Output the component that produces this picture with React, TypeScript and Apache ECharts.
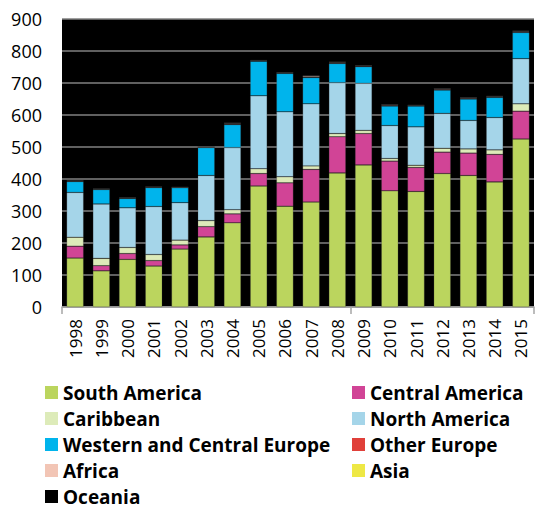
import React, { useEffect, useRef } from "react";
import * as echarts from "echarts";

const years = ["1998","1999","2000","2001","2002","2003","2004","2005","2006","2007","2008","2009","2010","2011","2012","2013","2014","2015"];
const southAmerica = [153,113,149,128,181,219,263,378,315,328,419,444,363,361,417,411,391,525];
const centralAmerica = [37,16,18,17,13,32,28,39,73,102,113,98,93,75,67,70,86,87];
const caribbean = [28,23,19,19,15,19,13,15,19,11,10,10,8,7,12,13,14,23];
const northAmerica = [140,170,124,150,117,141,194,228,203,194,159,147,103,120,109,89,101,141];
const westernCentralEurope = [34,45,29,59,47,87,72,108,120,82,60,52,61,65,73,67,63,82];
const otherEurope = [1,1,1,1,0.5,1,2,1,1,1,2,2,2,1,2,2,1,2];
const africa = [1,0.5,1,1,0.5,0.5,2,1,1,4,2,1,2,1,2,2,2,2];
const asia = [0.5,0.5,0.5,0.5,0.3,0.5,1,0.5,0.5,0.5,0.5,0.5,0.5,0.5,0.5,0.5,0.5,0.5];
const oceania = [0.5,0.5,0.5,0.5,0.3,0.5,0.5,0.5,0.5,0.5,0.5,0.5,0.5,0.5,0.5,0.5,0.5,0.5];
const yTicks = [0,100,200,300,400,500,600,700,800,900];

const seriesDefs = [
  { name: "South America", data: southAmerica, color: "#BBD55E" },
  { name: "Central America", data: centralAmerica, color: "#D14496" },
  { name: "Caribbean", data: caribbean, color: "#DDEBB9" },
  { name: "North America", data: northAmerica, color: "#A5D5E9" },
  { name: "Western and Central Europe", data: westernCentralEurope, color: "#00B4EC" },
  { name: "Other Europe", data: otherEurope, color: "#E0403A" },
  { name: "Africa", data: africa, color: "#F2C5B5" },
  { name: "Asia", data: asia, color: "#EEE845" },
  { name: "Oceania", data: oceania, color: "#000000" },
];

const FONT = "'Open Sans', 'Liberation Sans', sans-serif";

export default function App() {
  const ref = useRef<HTMLDivElement>(null);
  useEffect(() => {
    if (!ref.current) return;
    const chart = echarts.init(ref.current, undefined, { renderer: "svg" });
    const legendText = { fontSize: 19, fontWeight: "bold", color: "#000", fontFamily: FONT, lineHeight: 19 };
    const legendBase = {
      orient: "vertical", top: 383, height: 130, itemWidth: 13, itemHeight: 13, itemGap: 7,
      icon: "rect", textStyle: legendText, padding: 0,
      itemStyle: { borderWidth: 0 },
    };
    chart.setOption({
      animation: false,
      grid: { left: 62, right: 18, top: 19, bottom: 202, show: true, backgroundColor: "#000", borderWidth: 0 },
      legend: [
        { ...legendBase, left: 45, data: ["South America", "Caribbean", "Western and Central Europe", "Africa", "Oceania"] },
        { ...legendBase, left: 352, data: ["Central America", "North America", "Other Europe", "Asia"] },
      ],
      xAxis: {
        type: "category",
        data: years,
        axisLine: { show: true, lineStyle: { color: "#A6A6A6", width: 1.5 } },
        axisTick: { show: true, interval: 10, length: 7, lineStyle: { color: "#A6A6A6", width: 1.5 } },
        axisLabel: { rotate: 90, fontSize: 17, color: "#000", fontFamily: FONT, margin: 12 },
      },
      yAxis: {
        type: "value",
        min: 0,
        max: 900,
        interval: 100,
        axisLine: { show: false },
        axisTick: { show: false },
        axisLabel: { fontSize: 18, color: "#000", fontFamily: FONT, margin: 20, formatter: (v: number) => (yTicks.includes(v) ? String(v) : "") },
        splitLine: { lineStyle: { color: "#808080", width: 1.5 } },
      },
      series: seriesDefs.map((s) => ({
        name: s.name,
        type: "bar",
        stack: "total",
        barWidth: 17,
        data: s.data,
        itemStyle: { color: s.color, borderColor: "rgba(60,60,60,0.5)", borderWidth: 0.5 },
      })),
    });
    return () => chart.dispose();
  }, []);
  return <div ref={ref} style={{ width: 552, height: 509, position: "absolute", left: 0, top: 0, background: "#fff" }} />;
}
